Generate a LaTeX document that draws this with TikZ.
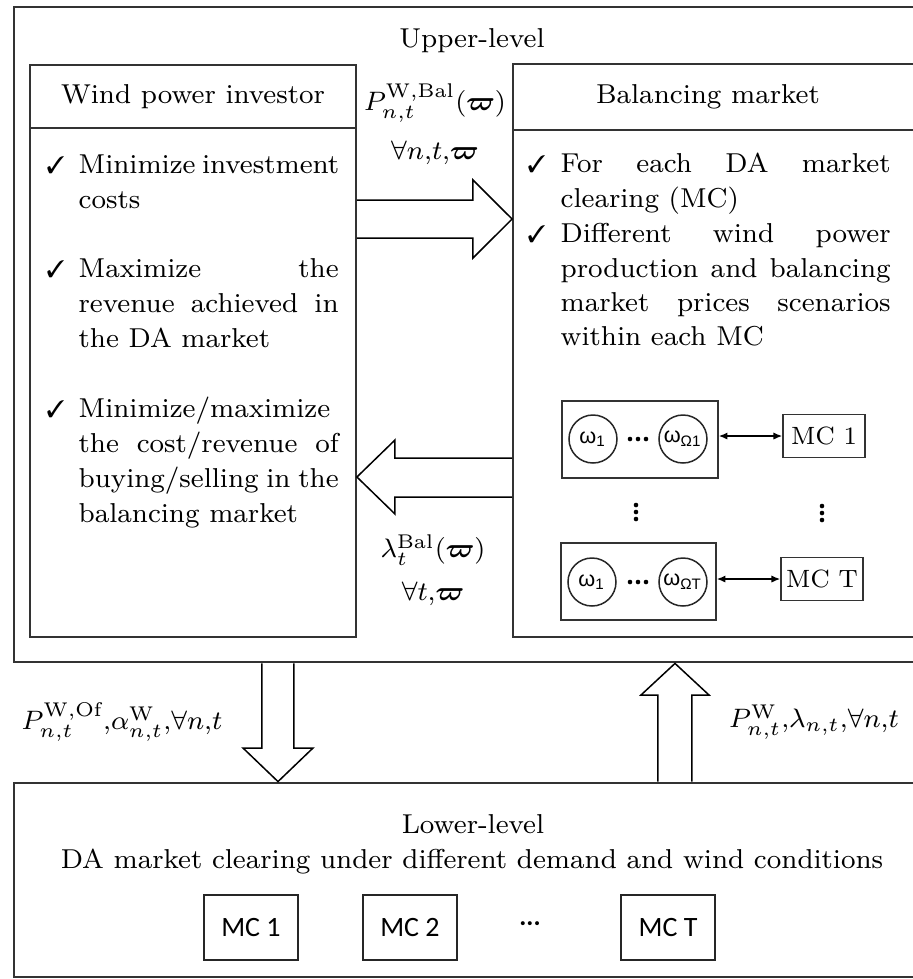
\documentclass[tikz,border=0pt]{standalone}
\usepackage{amsmath,amssymb}
\usepackage{pifont}
\usepackage{fontspec}
\newfontfamily\carl{Carlito}
\newfontfamily\lsans{Liberation Sans}
\usetikzlibrary{arrows.meta,fit}
\begin{document}
\begin{tikzpicture}[x=0.3pt,y=-0.3pt,
  box/.style={draw=black!80,line width=0.55pt,inner sep=0pt},
  outerbox/.style={draw=black!80,line width=0.85pt,inner sep=0pt},
  sepline/.style={draw=black!80,line width=0.55pt},
  body/.style={font=\fontsize{8.2}{10.5}\selectfont,inner sep=0pt,anchor=base west},
  head/.style={font=\fontsize{8.2}{10.5}\selectfont,inner sep=0pt,anchor=base},
  chk/.style={font=\fontsize{7.2}{8}\selectfont,inner sep=0pt,anchor=base west},
  mlab/.style={font=\fontsize{8.5}{10}\selectfont,inner sep=0pt},
  blk/.style={draw=black,line width=0.45pt,line join=miter},
  omg/.style={draw=black!85,line width=0.45pt,circle,minimum size=14.4pt,inner sep=0pt,font=\lsans\fontsize{6.5}{7}\selectfont},
  mcu/.style={draw=black!80,line width=0.5pt,minimum width=24.6pt,minimum height=12.9pt,inner sep=0pt,font=\fontsize{7.5}{9}\selectfont},
  mcl/.style={draw=black!85,line width=0.6pt,minimum width=28.2pt,minimum height=19.5pt,inner sep=0pt,font=\carl\fontsize{8.4}{10}\selectfont},
  dbl/.style={{Latex[length=2.6pt,width=2.2pt]}-{Latex[length=2.6pt,width=2.2pt]},line width=0.45pt},
]
\useasboundingbox (0,0) rectangle (913,979);
\clip (0,0) rectangle (913,979);

% frames
\node[outerbox, fit={(14,7)(930,662)}] (upper) {};
\node[outerbox, fit={(14,783)(930,977)}] (lower) {};
\node[box, fit={(30,65)(356,637)}] (wpi) {};
\node[box, fit={(513,64)(930,637)}] (bm) {};
\draw[sepline] (wpi.west |- 0,128) -- (wpi.east |- 0,128);
\draw[sepline] (bm.west |- 0,130) -- (bm.east |- 0,130);

% headings
\node[head] (uplab) at (472,47) {Upper-level};
\node[head] (wpih) at (193,103) {Wind power investor};
\node[head] (bmh) at (708,103) {Balancing market};

% horizontal block arrows
\draw[blk] (wpi.east |- 0,200) -- (473,200) -- (473,180) -- (bm.west |- 0,219) -- (473,258) -- (473,238) -- (wpi.east |- 0,238);
\draw[blk] (bm.west |- 0,458) -- (395,458) -- (395,440) -- (wpi.east |- 0,477) -- (395,514) -- (395,497) -- (bm.west |- 0,497);

% math labels
\node[mlab] (pbal) at (435,103) {$P_{n,t}^{\mathrm{W,Bal}}(\boldsymbol{\varpi})$};
\node[mlab] (fa1) at (435,153) {$\forall n{,}t{,}\boldsymbol{\varpi}$};
\node[mlab] (lbal) at (433,550) {$\lambda_{t}^{\mathrm{Bal}}(\boldsymbol{\varpi})$};
\node[mlab] (fa2) at (433,594) {$\forall t{,}\boldsymbol{\varpi}$};
\node[mlab] (lowlab1) at (122,722) {$P_{n,t}^{\mathrm{W,Of}}{,}\alpha_{n,t}^{\mathrm{W}}{,}\forall n{,}t$};
\node[mlab] (lowlab2) at (814,722) {$P_{n,t}^{\mathrm{W}}{,}\lambda_{n,t}{,}\forall n{,}t$};

% left bullets
\node[chk] (c1) at (46,173) {\ding{51}};
\node[body] (l1a) at (78,173) {\makebox[78pt][s]{Minimize investment}};
\node[body] (l1b) at (78,208) {costs};
\node[chk] (c2) at (46,277) {\ding{51}};
\node[body] (l2a) at (78,277) {\makebox[78pt][s]{Maximize the}};
\node[body] (l2b) at (78,312) {\makebox[78pt][s]{revenue achieved in}};
\node[body] (l2c) at (78,347) {the DA market};
\node[chk] (c3) at (46,417) {\ding{51}};
\node[body] (l3a) at (78,417) {Minimize/maximize};
\node[body] (l3b) at (78,452) {\makebox[78pt][s]{the cost/revenue of}};
\node[body] (l3c) at (78,487) {\makebox[78pt][s]{buying/selling in the}};
\node[body] (l3d) at (78,522) {balancing market};

% right bullets
\node[chk] (c4) at (527,172) {\ding{51}};
\node[body] (r1a) at (560,172) {\makebox[99pt][s]{For each DA market}};
\node[body] (r1b) at (560,207) {clearing (MC)};
\node[chk] (c5) at (527,242) {\ding{51}};
\node[body] (r2a) at (560,242) {\makebox[99pt][s]{Different wind power}};
\node[body] (r2b) at (560,277) {\makebox[99pt][s]{production and balancing}};
\node[body] (r2c) at (560,311) {\makebox[99pt][s]{market prices scenarios}};
\node[body] (r2d) at (560,345) {within each MC};

% scenario groups
\node[box, line width=0.5pt, fit={(562,401)(718,478)}] (sc1) {};
\node[omg] (o11) at (593,439) {ω\textsubscript{1}};
\node[omg] (o1n) at (683,439) {ω\textsubscript{Ω1}};
\foreach \dx in {-8,0,8} \fill (638+\dx,439) circle (2.3);
\node[mcu] (mc1) at (824,436) {MC 1};
\draw[dbl] (sc1.east |- mc1) -- (mc1.west);

\foreach \dy in {-7,0,7} {\fill (636,512+\dy) circle (2.3); \fill (822,513+\dy) circle (2.3);}

\node[box, line width=0.5pt, fit={(561,543)(716,620)}] (scT) {};
\node[omg] (oT1) at (592,582) {ω\textsubscript{1}};
\node[omg] (oTn) at (683,582) {ω\textsubscript{ΩT}};
\foreach \dx in {-8,0,8} \fill (638+\dx,582) circle (2.3);
\node[mcu] (mcT) at (822,579) {MC T};
\draw[dbl] (scT.east |- mcT) -- (mcT.west);

% vertical block arrows
\draw[blk] (262,0 |- upper.south) -- (262,748) -- (243,748) -- (278,0 |- lower.north) -- (313,748) -- (294,748) -- (294,0 |- upper.south);
\draw[blk] (658,0 |- lower.north) -- (658,695) -- (641,695) -- (675,0 |- upper.south) -- (709,695) -- (692,695) -- (692,0 |- lower.north);

% lower level
\node[head] (lowlab) at (473,833) {Lower-level};
\node[head] (lowdesc) at (472,868) {DA market clearing under different demand and wind conditions};
\node[mcl] (lmc1) at (251,927) {MC 1};
\node[mcl] (lmc2) at (410,927) {MC 2};
\node[font=\carl\fontsize{8.4}{10}\selectfont, inner sep=0pt] (ldots) at (530,927) {···};
\node[mcl] (lmcT) at (668,927) {MC T};
\end{tikzpicture}
\end{document}
